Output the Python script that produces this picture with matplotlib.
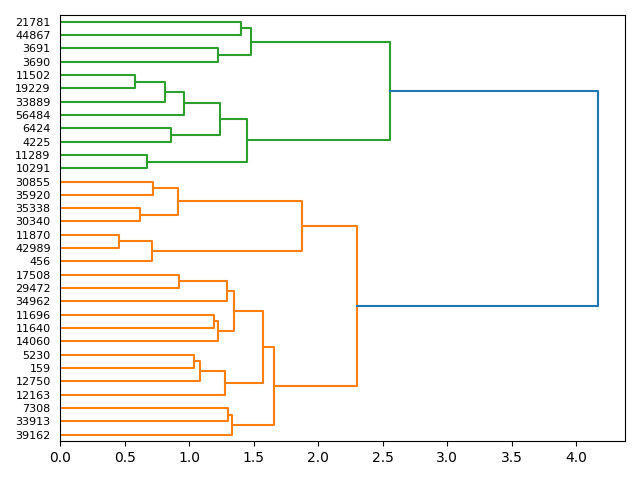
import numpy as np
import matplotlib
matplotlib.use("Agg")
import matplotlib.pyplot as plt

# leaf labels, top to bottom
labels = ["21781", "44867", "3691", "3690", "11502", "19229", "33889", "56484",
          "6424", "4225", "11289", "10291", "30855", "35920", "35338", "30340",
          "11870", "42989", "456", "17508", "29472", "34962", "11696", "11640",
          "14060", "5230", "159", "12750", "12163", "7308", "33913", "39162"]

# merges: new cluster ids start at len(labels)
left = [0, 2, 32, 4, 35, 36, 8, 37, 10, 39, 34,
        12, 14, 43, 16, 46, 45, 19, 49, 22, 51, 50, 25, 54, 55, 53, 29, 58, 57, 48,
        42]
right = [1, 3, 33, 5, 6, 7, 9, 38, 11, 40, 41,
         13, 15, 44, 17, 18, 47, 20, 21, 23, 24, 52, 26, 27, 28, 56, 30, 31, 59, 60,
         61]
heights = [1.40, 1.22, 1.48, 0.58, 0.815, 0.96, 0.855, 1.24, 0.675, 1.445, 2.56,
           0.715, 0.62, 0.91, 0.458, 0.707, 1.875, 0.917, 1.29, 1.19, 1.22, 1.344,
           1.04, 1.08, 1.274, 1.57, 1.30, 1.33, 1.655, 2.30,
           4.17]
colors = ["C2"] * 11 + ["C1"] * 19 + ["C0"]

n = len(labels)
ypos = {i: 10 * (n - 1 - i) + 5 for i in range(n)}
xpos = {i: 0.0 for i in range(n)}

fig, ax = plt.subplots(figsize=(6.4, 4.8), dpi=100)

for k in range(len(heights)):
    a, b, h = left[k], right[k], heights[k]
    ya, yb = ypos[a], ypos[b]
    ax.plot([xpos[a], h, h, xpos[b]], [ya, ya, yb, yb], color=colors[k], lw=1.5)
    ypos[n + k] = (ya + yb) / 2
    xpos[n + k] = h

ax.set_xlim(0, max(heights) * 1.05)
ax.set_ylim(0, 10 * n)
ax.set_yticks([10 * (n - 1 - i) + 5 for i in range(n)])
ax.set_yticklabels(labels, fontsize=8)
# hide tick marks so they don't cover the links
for line in ax.get_yticklines():
    line.set_visible(False)

fig.tight_layout()
plt.savefig("out.png")
